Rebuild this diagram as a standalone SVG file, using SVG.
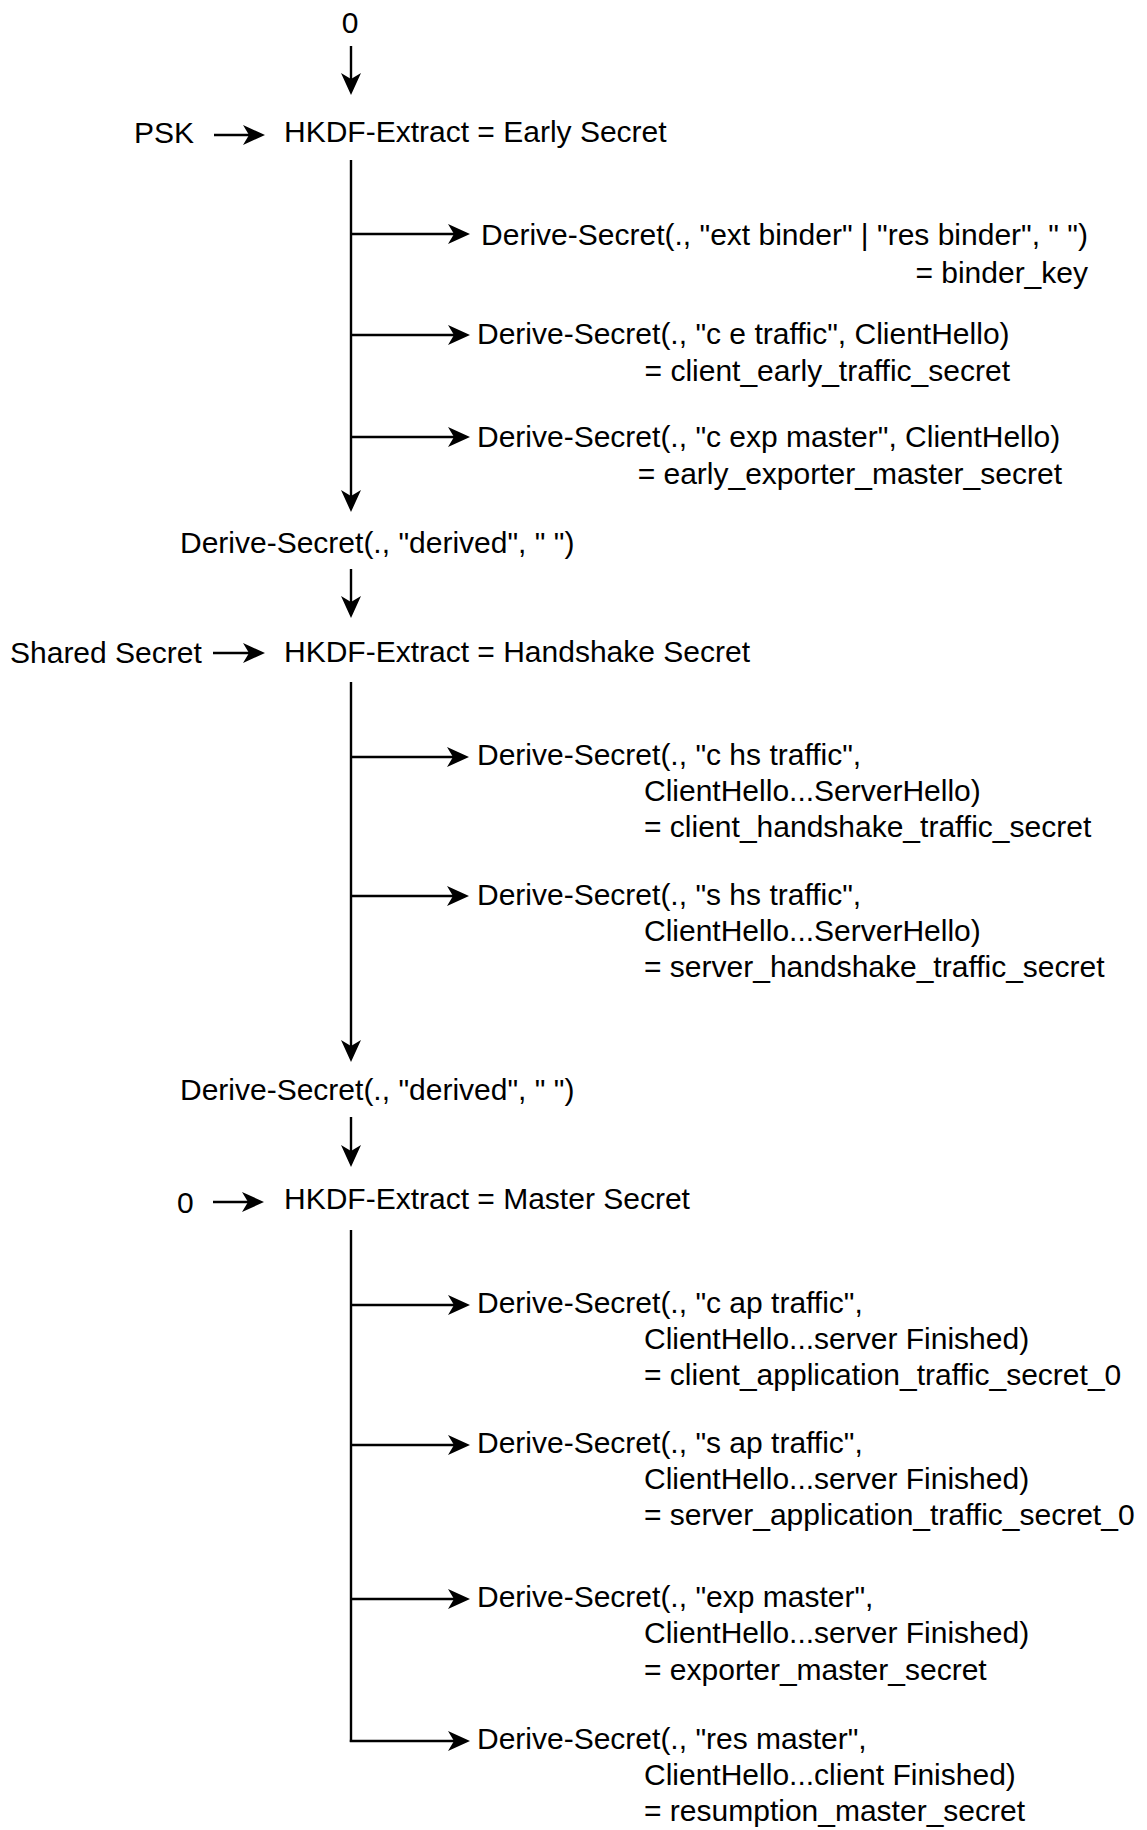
<svg xmlns="http://www.w3.org/2000/svg" width="1147" height="1830" viewBox="0 0 1147 1830">
  <style>
    text { font-family: "Liberation Sans", Arial, sans-serif; font-size: 30px; fill: #000; }
    .e { fill: none; stroke: #000; stroke-width: 2.4; }
    .a { marker-end: url(#arr); }
  </style>
  <defs>
    <marker id="arr" viewBox="0 0 22 20" refX="11" refY="10" markerWidth="22" markerHeight="20" markerUnits="userSpaceOnUse" orient="auto">
      <path d="M0,0 L22,10 L0,20 L6,10 Z" fill="#000"/>
    </marker>
  </defs>
  <rect width="1147" height="1830" fill="#fff"/>

  <g id="connectors">
    <line class="e a" x1="351" y1="46" x2="351" y2="84"/>
    <line class="e a" x1="214" y1="135" x2="254" y2="135"/>
    <line class="e a" x1="351" y1="160" x2="351" y2="501"/>
    <line class="e a" x1="351" y1="234" x2="459" y2="234"/>
    <line class="e a" x1="351" y1="335" x2="459" y2="335"/>
    <line class="e a" x1="351" y1="437" x2="459" y2="437"/>
    <line class="e a" x1="351" y1="569" x2="351" y2="607"/>
    <line class="e a" x1="213" y1="653" x2="254" y2="653"/>
    <line class="e a" x1="351" y1="682" x2="351" y2="1051"/>
    <line class="e a" x1="351" y1="757" x2="458" y2="757"/>
    <line class="e a" x1="351" y1="896" x2="458" y2="896"/>
    <line class="e a" x1="351" y1="1117" x2="351" y2="1156"/>
    <line class="e a" x1="213" y1="1202" x2="253" y2="1202"/>
    <line class="e" x1="351" y1="1230" x2="351" y2="1742"/>
    <line class="e a" x1="351" y1="1305" x2="459" y2="1305"/>
    <line class="e a" x1="351" y1="1445" x2="459" y2="1445"/>
    <line class="e a" x1="351" y1="1599" x2="459" y2="1599"/>
    <line class="e a" x1="349.8" y1="1741" x2="459" y2="1741"/>
  </g>

  <g id="zero-top"><text x="350" y="33" text-anchor="middle">0</text></g>
  <g id="psk"><text x="134" y="143">PSK</text></g>
  <g id="early-secret"><text x="284" y="142">HKDF-Extract = Early Secret</text></g>
  <g id="binder-key">
    <text x="1088" y="245" text-anchor="end">Derive-Secret(., "ext binder" | "res binder", " ")</text>
    <text x="1088" y="283" text-anchor="end">= binder_key</text>
  </g>
  <g id="client-early-traffic">
    <text x="477" y="344">Derive-Secret(., "c e traffic", ClientHello)</text>
    <text x="1010" y="381" text-anchor="end">= client_early_traffic_secret</text>
  </g>
  <g id="early-exporter">
    <text x="477" y="447">Derive-Secret(., "c exp master", ClientHello)</text>
    <text x="1062" y="484" text-anchor="end">= early_exporter_master_secret</text>
  </g>
  <g id="derived-1"><text x="180" y="553">Derive-Secret(., "derived", " ")</text></g>
  <g id="shared-secret"><text x="10" y="663">Shared Secret</text></g>
  <g id="handshake-secret"><text x="284" y="662">HKDF-Extract = Handshake Secret</text></g>
  <g id="client-hs-traffic">
    <text x="477" y="765">Derive-Secret(., "c hs traffic",</text>
    <text x="644" y="801">ClientHello...ServerHello)</text>
    <text x="644" y="837">= client_handshake_traffic_secret</text>
  </g>
  <g id="server-hs-traffic">
    <text x="477" y="905">Derive-Secret(., "s hs traffic",</text>
    <text x="644" y="941">ClientHello...ServerHello)</text>
    <text x="644" y="977">= server_handshake_traffic_secret</text>
  </g>
  <g id="derived-2"><text x="180" y="1100">Derive-Secret(., "derived", " ")</text></g>
  <g id="zero-master"><text x="177" y="1213">0</text></g>
  <g id="master-secret"><text x="284" y="1209">HKDF-Extract = Master Secret</text></g>
  <g id="client-ap-traffic">
    <text x="477" y="1313">Derive-Secret(., "c ap traffic",</text>
    <text x="644" y="1349">ClientHello...server Finished)</text>
    <text x="644" y="1385">= client_application_traffic_secret_0</text>
  </g>
  <g id="server-ap-traffic">
    <text x="477" y="1453">Derive-Secret(., "s ap traffic",</text>
    <text x="644" y="1489">ClientHello...server Finished)</text>
    <text x="644" y="1525">= server_application_traffic_secret_0</text>
  </g>
  <g id="exporter-master">
    <text x="477" y="1607">Derive-Secret(., "exp master",</text>
    <text x="644" y="1643">ClientHello...server Finished)</text>
    <text x="644" y="1680">= exporter_master_secret</text>
  </g>
  <g id="resumption-master">
    <text x="477" y="1749">Derive-Secret(., "res master",</text>
    <text x="644" y="1785">ClientHello...client Finished)</text>
    <text x="644" y="1821">= resumption_master_secret</text>
  </g>
</svg>
